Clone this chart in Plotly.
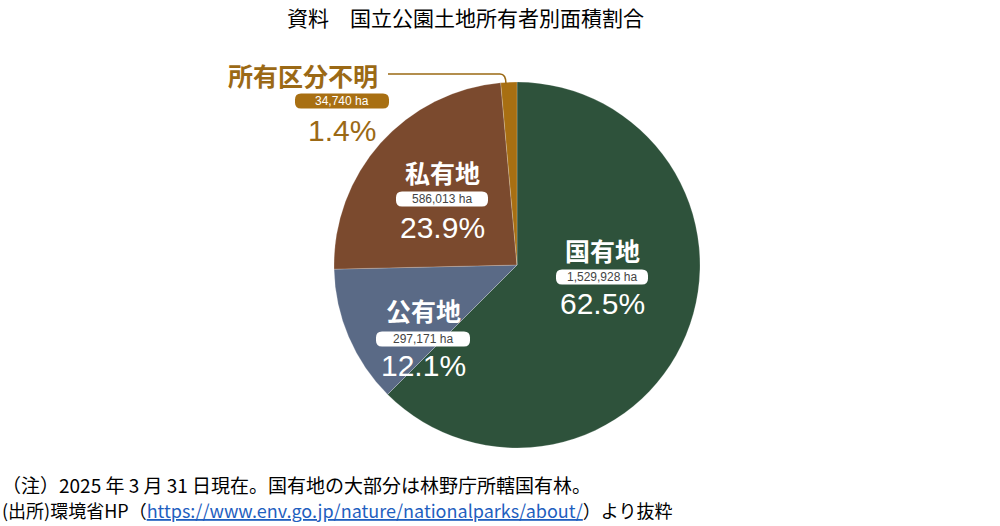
import plotly.graph_objects as go

# ---------------------------------------------------------------------------
# Data
# ---------------------------------------------------------------------------
owners = ["国有地", "公有地", "私有地", "所有区分不明"]
area_ha = [1529928, 297171, 586013, 34740]
area_text = ["1,529,928 ha", "297,171 ha", "586,013 ha", "34,740 ha"]
share_text = ["62.5%", "12.1%", "23.9%", "1.4%"]

TITLE = "資料　国立公園土地所有者別面積割合"
NOTE = "（注）2025 年 3 月 31 日現在。国有地の大部分は林野庁所轄国有林。"
SOURCE_PRE = "(出所)環境省HP（"
SOURCE_URL = "https://www.env.go.jp/nature/nationalparks/about/"
SOURCE_POST = "）より抜粋"

# ---------------------------------------------------------------------------
# Styling
# ---------------------------------------------------------------------------
W, H = 1000, 526
SLICE_COLORS = ["#2e523b", "#5a6a86", "#7b4a2e", "#a86f12"]
ORANGE_TEXT = "#9b6915"
FONT = "Noto Sans CJK JP"

# label centres in pixels (name, box, percent rows), box half width
LABEL_POS = [
    (602, 250, 277, 303, 46),   # 国有地
    (423, 310, 339, 365, 47),   # 公有地
    (442, 172, 199, 227, 46),   # 私有地
    (None, 75, 101, 130, 47),   # 所有区分不明 (outside)
]


def px(x, y):
    return x / W, 1 - y / H


def rounded_box(x0, y0, x1, y1, r):
    ax0, ay0 = px(x0, y0)
    ax1, ay1 = px(x1, y1)
    rx, ry = r / W, r / H
    return (
        f"M {ax0 + rx},{ay0} L {ax1 - rx},{ay0} Q {ax1},{ay0} {ax1},{ay0 - ry} "
        f"L {ax1},{ay1 + ry} Q {ax1},{ay1} {ax1 - rx},{ay1} "
        f"L {ax0 + rx},{ay1} Q {ax0},{ay1} {ax0},{ay1 + ry} "
        f"L {ax0},{ay0 - ry} Q {ax0},{ay0} {ax0 + rx},{ay0} Z"
    )


fig = go.Figure(
    go.Pie(
        labels=owners,
        values=area_ha,
        sort=False,
        direction="clockwise",
        rotation=0,
        textinfo="none",
        hoverinfo="label+value+percent",
        marker=dict(colors=SLICE_COLORS, line=dict(color="rgba(255,255,255,0.35)", width=0.6)),
        domain=dict(x=[334 / W, 700 / W], y=[1 - 448 / H, 1 - 82 / H]),
        showlegend=False,
    )
)

annotations = []
shapes = []

for i, name in enumerate(owners):
    cx, y_name, y_box, y_pct, half = LABEL_POS[i]
    outside = cx is None
    if outside:
        # name sits to the left with a leader line; box/percent below it
        cx = 342
        annotations.append(dict(
            x=226 / W, y=px(0, y_name)[1], xref="paper", yref="paper",
            xanchor="left", yanchor="middle", showarrow=False,
            text=f"<b>{name}</b>", font=dict(family=FONT, size=25, color=ORANGE_TEXT),
        ))
    else:
        annotations.append(dict(
            x=cx / W, y=px(0, y_name)[1], xref="paper", yref="paper",
            xanchor="center", yanchor="middle", showarrow=False,
            text=f"<b>{name}</b>", font=dict(family=FONT, size=25, color="white"),
        ))

    box_fill = SLICE_COLORS[3] if outside else "white"
    shapes.append(dict(
        type="path", xref="paper", yref="paper",
        path=rounded_box(cx - half, y_box - 7.5, cx + half, y_box + 7.5, 6),
        fillcolor=box_fill, line=dict(width=0), layer="above",
    ))
    annotations.append(dict(
        x=cx / W, y=px(0, y_box)[1], xref="paper", yref="paper",
        xanchor="center", yanchor="middle", showarrow=False,
        text=area_text[i],
        font=dict(family="Liberation Sans", size=12,
                  color="white" if outside else "#444444"),
    ))
    annotations.append(dict(
        x=cx / W, y=px(0, y_pct)[1], xref="paper", yref="paper",
        xanchor="center", yanchor="middle", showarrow=False,
        text=share_text[i],
        font=dict(family="Liberation Sans", size=30,
                  color=ORANGE_TEXT if outside else "white"),
    ))

# leader line from the outside label to the small slice
lx0, ly = px(388, 74)
lx1, _ = px(500, 74)
lx2, ly2 = px(506, 84)
shapes.append(dict(
    type="path", xref="paper", yref="paper",
    path=f"M {lx0},{ly} L {lx1},{ly} Q {lx2},{ly} {lx2},{ly2}",
    line=dict(color=ORANGE_TEXT, width=1.6),
))

# title and footnotes
annotations.append(dict(
    x=465 / W, y=px(0, 17)[1], xref="paper", yref="paper",
    xanchor="center", yanchor="middle", showarrow=False,
    text=TITLE, font=dict(family=FONT, size=21, color="black"),
))
annotations.append(dict(
    x=0, y=px(0, 484)[1], xref="paper", yref="paper",
    xanchor="left", yanchor="middle", showarrow=False,
    text=NOTE, font=dict(family=FONT, size=19, color="black"),
))
annotations.append(dict(
    x=0, y=px(0, 510)[1], xref="paper", yref="paper",
    xanchor="left", yanchor="middle", showarrow=False,
    text=(f"{SOURCE_PRE}<span style='color:#1f5fbf'><u>{SOURCE_URL}</u></span>"
          f"{SOURCE_POST}"),
    font=dict(family=FONT, size=18, color="black"),
))

fig.update_layout(
    width=W, height=H,
    margin=dict(l=0, r=0, t=0, b=0),
    paper_bgcolor="white",
    plot_bgcolor="white",
    annotations=annotations,
    shapes=shapes,
)

# drop the browser's default body margin so the figure fills the window
fig.write_html(
    "out.html",
    config={"displayModeBar": False},
    post_script="document.body.style.margin='0';",
)
